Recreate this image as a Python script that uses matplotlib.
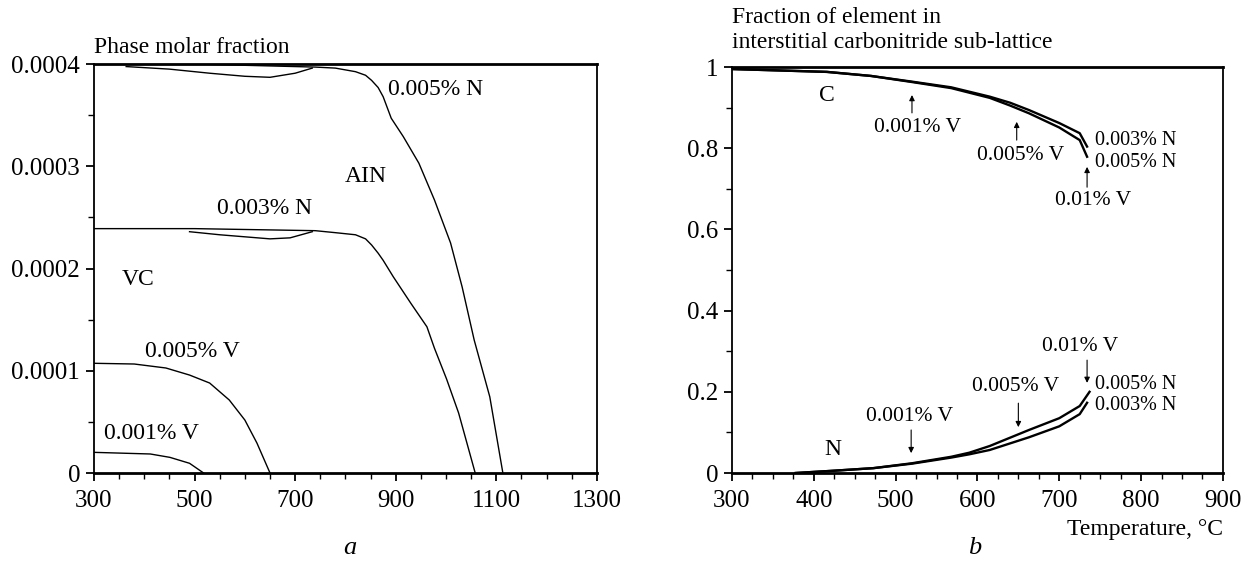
import matplotlib
matplotlib.use("Agg")
import matplotlib.pyplot as plt
from matplotlib.ticker import MultipleLocator, FixedLocator

plt.rcParams['font.family'] = ['Liberation Serif', 'DejaVu Serif']

# --- panel a: phase molar fraction vs temperature ---
t_n005 = [300, 500, 740, 780, 820, 840, 852, 865, 875, 891, 915, 946, 977, 1009, 1032, 1056, 1087, 1113]
f_n005 = [0.0004, 0.0004, 0.000397, 0.000396, 0.0003925, 0.000389, 0.000384, 0.000377, 0.000368,
          0.000347, 0.000329, 0.000303, 0.000267, 0.000225, 0.000182, 0.00013, 0.0000745, 0.0]
t_n005_dip = [364, 450, 530, 600, 650, 700, 734]
f_n005_dip = [0.0003975, 0.000395, 0.000391, 0.000388, 0.000387, 0.000391, 0.000396]

t_n003 = [300, 500, 740, 781, 820, 840, 852, 865, 875, 895, 930, 962, 977, 1001, 1025, 1058]
f_n003 = [0.000239, 0.000239, 0.000237, 0.000235, 0.000233, 0.000229, 0.000223, 0.000215, 0.000208,
          0.000192, 0.000166, 0.000143, 0.000122, 0.000092, 0.0000587, 0.0]
t_n003_dip = [490, 550, 600, 650, 690, 734]
f_n003_dip = [0.000236, 0.000233, 0.000231, 0.000229, 0.00023, 0.000236]

t_v005 = [300, 380, 443, 490, 530, 569, 600, 624, 650]
f_v005 = [0.0001073, 0.0001066, 0.0001027, 0.0000958, 0.000088, 0.0000714, 0.0000518, 0.0000293, 0.0]

t_v001 = [300, 412, 451, 490, 518]
f_v001 = [0.0000202, 0.0000186, 0.0000153, 0.0000095, 0.0]

xticks_a = [300, 500, 700, 900, 1100, 1300]
yticks_a = [0, 0.0001, 0.0002, 0.0003, 0.0004]
ylabels_a = ['0', '0.0001', '0.0002', '0.0003', '0.0004']

# --- panel b: fraction of element in sub-lattice ---
t_c_hi = [300, 350, 416, 470, 520, 568, 615, 640, 663, 700, 725, 734]
c_hi = [0.995, 0.992, 0.988, 0.978, 0.964, 0.950, 0.927, 0.912, 0.894, 0.862, 0.837, 0.804]
t_c_lo = [300, 350, 416, 470, 520, 568, 615, 640, 663, 700, 725, 734]
c_lo = [0.995, 0.992, 0.988, 0.978, 0.963, 0.948, 0.924, 0.905, 0.886, 0.851, 0.820, 0.779]

t_n_hi = [378, 425, 473, 520, 568, 590, 615, 663, 700, 725, 737]
n_hi = [0.0, 0.0057, 0.012, 0.024, 0.040, 0.050, 0.0665, 0.106, 0.135, 0.165, 0.200]
t_n_lo = [378, 425, 473, 520, 568, 590, 615, 663, 700, 725, 734]
n_lo = [0.0, 0.0057, 0.012, 0.023, 0.038, 0.046, 0.0567, 0.088, 0.115, 0.145, 0.173]

yticks_b = [0, 0.2, 0.4, 0.6, 0.8, 1.0]
ylabels_b = ['0', '0.2', '0.4', '0.6', '0.8', '1']

fig = plt.figure(figsize=(12.48, 5.66), dpi=100)
ax1 = fig.add_axes([0.0753, 0.1643, 0.403, 0.7226])
ax2 = fig.add_axes([0.5865, 0.1643, 0.3934, 0.7173])

lw = 1.0
ax1.plot(t_n005, f_n005, color='black', lw=lw)
ax1.plot(t_n005_dip, f_n005_dip, color='black', lw=lw)
ax1.plot(t_n003, f_n003, color='black', lw=lw)
ax1.plot(t_n003_dip, f_n003_dip, color='black', lw=lw)
ax1.plot(t_v005, f_v005, color='black', lw=lw)
ax1.plot(t_v001, f_v001, color='black', lw=lw)

ax1.set_xlim(300, 1300)
ax1.set_ylim(0, 0.0004)
ax1.xaxis.set_major_locator(FixedLocator(xticks_a))
ax1.xaxis.set_minor_locator(MultipleLocator(50))
ax1.yaxis.set_major_locator(FixedLocator(yticks_a))
ax1.yaxis.set_minor_locator(MultipleLocator(0.00005))
ax1.set_yticklabels(ylabels_a)

fs_lab = 17
ax1.text(300, 0.000406, 'Phase molar fraction', fontsize=fs_lab, ha='left', va='bottom')
ax1.text(884, 0.0003746, '0.005% N', fontsize=fs_lab, ha='left', va='center')
ax1.text(799, 0.0002895, 'AIN', fontsize=fs_lab, ha='left', va='center')
ax1.text(544, 0.000259, '0.003% N', fontsize=fs_lab, ha='left', va='center')
ax1.text(356, 0.0001888, 'VC', fontsize=fs_lab, ha='left', va='center')
ax1.text(401, 0.0001193, '0.005% V', fontsize=fs_lab, ha='left', va='center')
ax1.text(320, 0.0000391, '0.001% V', fontsize=fs_lab, ha='left', va='center')

lw2 = 1.7
ax2.plot(t_c_hi, c_hi, color='black', lw=lw2)
ax2.plot(t_c_lo, c_lo, color='black', lw=lw2)
ax2.plot(t_n_hi, n_hi, color='black', lw=lw2)
ax2.plot(t_n_lo, n_lo, color='black', lw=lw2)

ax2.set_xlim(300, 900)
ax2.set_ylim(0, 1)
ax2.xaxis.set_major_locator(MultipleLocator(100))
ax2.xaxis.set_minor_locator(MultipleLocator(25))
ax2.yaxis.set_major_locator(FixedLocator(yticks_b))
ax2.yaxis.set_minor_locator(MultipleLocator(0.1))
ax2.set_yticklabels(ylabels_b)

ax2.text(300, 1.035, 'Fraction of element in\ninterstitial carbonitride sub-lattice',
         fontsize=fs_lab, ha='left', va='bottom', linespacing=1.25)

arrow = dict(arrowstyle='-|>', color='black', lw=0.8, mutation_scale=8, shrinkA=0, shrinkB=0)
fs_v = 15.5
fs_n = 14.5
ax2.text(416, 0.931, 'C', fontsize=fs_lab, ha='center', va='center')
ax2.annotate('', xy=(520, 0.931), xytext=(520, 0.887), arrowprops=arrow)
ax2.text(527, 0.852, '0.001% V', fontsize=fs_v, ha='center', va='center')
ax2.annotate('', xy=(648, 0.865), xytext=(648, 0.820), arrowprops=arrow)
ax2.text(653, 0.783, '0.005% V', fontsize=fs_v, ha='center', va='center')
ax2.annotate('', xy=(734, 0.754), xytext=(734, 0.704), arrowprops=arrow)
ax2.text(741, 0.672, '0.01% V', fontsize=fs_v, ha='center', va='center')
ax2.text(744, 0.820, '0.003% N', fontsize=fs_n, ha='left', va='center')
ax2.text(744, 0.766, '0.005% N', fontsize=fs_n, ha='left', va='center')

ax2.text(423, 0.0567, 'N', fontsize=fs_lab, ha='center', va='center')
ax2.annotate('', xy=(519, 0.049), xytext=(519, 0.106), arrowprops=arrow)
ax2.text(517, 0.138, '0.001% V', fontsize=fs_v, ha='center', va='center')
ax2.annotate('', xy=(650, 0.113), xytext=(650, 0.172), arrowprops=arrow)
ax2.text(646, 0.2126, '0.005% V', fontsize=fs_v, ha='center', va='center')
ax2.annotate('', xy=(734, 0.222), xytext=(734, 0.278), arrowprops=arrow)
ax2.text(725, 0.311, '0.01% V', fontsize=fs_v, ha='center', va='center')
ax2.text(744, 0.219, '0.005% N', fontsize=fs_n, ha='left', va='center')
ax2.text(744, 0.166, '0.003% N', fontsize=fs_n, ha='left', va='center')

for ax in (ax1, ax2):
    for s in ax.spines.values():
        s.set_linewidth(1.3)
    ax.spines['bottom'].set_linewidth(2)
    ax.spines['top'].set_linewidth(2)
    ax.tick_params(which='major', direction='out', length=6, width=1.3, labelsize=18, pad=4)
    ax.tick_params(which='minor', direction='out', length=4, width=1.0)
    ax.tick_params(axis='x', pad=6)

ax2.text(900, -0.14, 'Temperature, \u00b0C', fontsize=fs_lab, ha='right', va='center')

fig.text(350 / 1248, 1 - 548 / 566, 'a', fontsize=19, style='italic', ha='center', va='center')
fig.text(975 / 1248, 1 - 548 / 566, 'b', fontsize=19, style='italic', ha='center', va='center')

fig.savefig('out.png', dpi=100)
